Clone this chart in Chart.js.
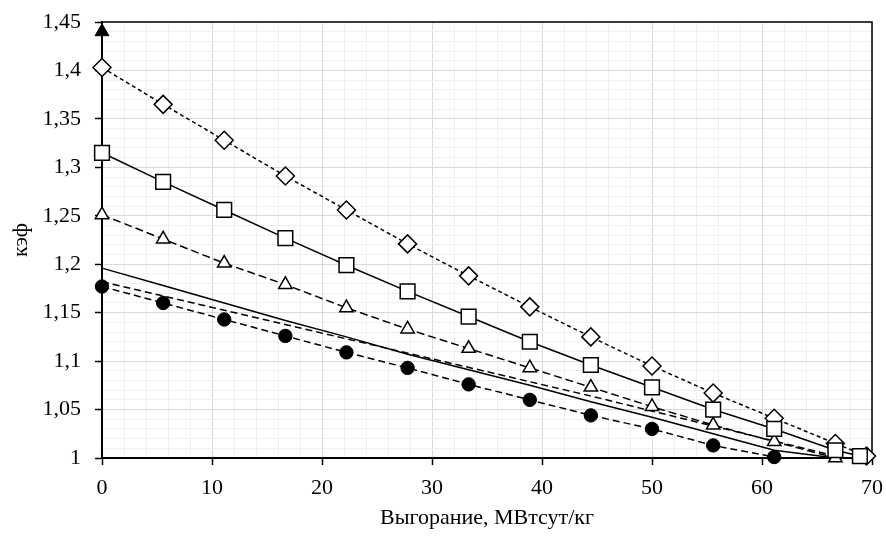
<!DOCTYPE html>
<html>
<head>
<meta charset="utf-8">
<script src="https://cdn.jsdelivr.net/npm/chart.js@4"></script>
<style>
  html, body { margin: 0; padding: 0; background: #fff; }
  #wrap { width: 886px; height: 540px; }
</style>
</head>
<body>
<div id="wrap"><canvas id="chart"></canvas></div>
<script>
// burnup points, MW*day/kg
const burnup = [0, 5.56, 11.11, 16.67, 22.22, 27.78, 33.33, 38.89, 44.44, 50, 55.56, 61.11, 66.67];

const diamondX = burnup.concat([69.5]);
const diamondY = [1.403, 1.365, 1.328, 1.291, 1.256, 1.221, 1.188, 1.156, 1.125, 1.095, 1.067, 1.041, 1.015, 1.002];

const squareX = burnup.concat([68.9]);
const squareY = [1.315, 1.285, 1.256, 1.227, 1.199, 1.172, 1.146, 1.120, 1.096, 1.073, 1.050, 1.030, 1.008, 1.002];

const triangleY = [1.251, 1.226, 1.201, 1.179, 1.155, 1.133, 1.113, 1.093, 1.073, 1.053, 1.034, 1.017, 1.000];

const circleX = burnup.slice(0, 12);
const circleY = [1.177, 1.160, 1.143, 1.126, 1.109, 1.093, 1.076, 1.060, 1.044, 1.030, 1.013, 1.001];

const solidY = [1.196, 1.178, 1.160, 1.142, 1.125, 1.107, 1.091, 1.075, 1.058, 1.042, 1.025, 1.008, 1.000];

const dashX = [0, 22.22, 44.44, 66.67];
const dashY = [1.182, 1.123, 1.064, 1.002];

const topX = [0];
const topY = [1.44];

const xTicks = [0, 10, 20, 30, 40, 50, 60, 70];
const yTicks = [1, 1.05, 1.1, 1.15, 1.2, 1.25, 1.3, 1.35, 1.4, 1.45];

function pts(xs, ys) {
  return xs.map((x, i) => ({ x: x, y: ys[i] }));
}

const FONT = { family: '"Liberation Serif", "Times New Roman", serif', size: 22 };

const isMajorX = v => xTicks.some(t => Math.abs(t - v) < 1e-6);
const isMajorY = v => yTicks.some(t => Math.abs(t - v) < 1e-6);

const frame = {
  id: 'frame',
  beforeDatasetsDraw(chart) {
    const a = chart.chartArea, ctx = chart.ctx;
    ctx.save();
    ctx.strokeStyle = '#000';
    ctx.lineWidth = 1.5;
    ctx.beginPath();
    ctx.moveTo(a.left, a.top);
    ctx.lineTo(a.right, a.top);
    ctx.lineTo(a.right, a.bottom);
    ctx.stroke();
    ctx.restore();
  }
};

const config = {
  type: 'line',
  data: {
    datasets: [
      {
        data: pts(squareX, squareY),
        borderColor: '#000', borderWidth: 1.5,
        pointStyle: 'rect', pointRadius: 10.4,
        pointBackgroundColor: '#fff', pointBorderColor: '#000', pointBorderWidth: 1.5,
      },
      {
        data: pts(diamondX, diamondY),
        borderColor: '#000', borderWidth: 1.5, borderDash: [4, 3],
        pointStyle: 'rectRot', pointRadius: 9,
        pointBackgroundColor: '#fff', pointBorderColor: '#000', pointBorderWidth: 1.5,
      },
      {
        data: pts(burnup, triangleY),
        borderColor: '#000', borderWidth: 1.5, borderDash: [8, 4],
        pointStyle: 'triangle', pointRadius: 7.7,
        pointBackgroundColor: '#fff', pointBorderColor: '#000', pointBorderWidth: 1.5,
      },
      {
        data: pts(circleX, circleY),
        borderColor: '#000', borderWidth: 1.5, borderDash: [7, 4],
        pointStyle: 'circle', pointRadius: 6.7,
        pointBackgroundColor: '#000', pointBorderColor: '#000', pointBorderWidth: 1,
      },
      {
        data: pts(burnup, solidY),
        borderColor: '#000', borderWidth: 1.5,
        pointRadius: 0,
      },
      {
        data: pts(dashX, dashY),
        borderColor: '#000', borderWidth: 1.5, borderDash: [7, 4],
        pointRadius: 0,
      },
      {
        data: pts(topX, topY),
        showLine: false,
        pointStyle: 'triangle', pointRadius: 8,
        pointBackgroundColor: '#000', pointBorderColor: '#000', pointBorderWidth: 1,
      },
    ]
  },
  options: {
    responsive: true,
    maintainAspectRatio: false,
    animation: false,
    layout: { padding: { left: 0, right: 14, top: 22, bottom: 0 } },
    datasets: { line: { clip: false } },
    plugins: {
      legend: { display: false },
      tooltip: { enabled: false },
    },
    elements: { line: { tension: 0 } },
    scales: {
      x: {
        type: 'linear',
        min: 0, max: 70,
        afterFit: s => { s.height = 82; s.paddingLeft = 0; s.paddingRight = 0; },
        grid: {
          color: c => isMajorX(c.tick.value) ? '#d9d9d9' : '#f0f0f0',
          lineWidth: 1,
          tickLength: 7,
          tickColor: c => isMajorX(c.tick.value) ? '#000' : 'rgba(0,0,0,0)',
          tickWidth: 1.5,
        },
        border: { display: true, color: '#000', width: 2 },
        ticks: {
          stepSize: 2,
          autoSkip: false,
          maxRotation: 0,
          padding: 10,
          color: '#000',
          font: FONT,
          callback: v => isMajorX(v) ? String(Math.round(v)) : '',
        },
        title: {
          display: true,
          text: 'Выгорание, МВтсут/кг',
          color: '#000',
          font: FONT,
          padding: { top: 0, bottom: 9 },
        },
      },
      y: {
        type: 'linear',
        min: 1, max: 1.45,
        afterFit: s => { s.width = 102; s.paddingTop = 0; s.paddingBottom = 0; },
        grid: {
          color: c => isMajorY(c.tick.value) ? '#d9d9d9' : '#f0f0f0',
          lineWidth: 1,
          tickLength: 7,
          tickColor: c => isMajorY(c.tick.value) ? '#000' : 'rgba(0,0,0,0)',
          tickWidth: 1.5,
        },
        border: { display: true, color: '#000', width: 2 },
        ticks: {
          stepSize: 0.01,
          autoSkip: false,
          padding: 14,
          color: '#000',
          font: FONT,
          callback: v => isMajorY(v) ? String(Math.round(v * 100) / 100).replace('.', ',') : '',
        },
        title: {
          display: true,
          text: 'кэф',
          color: '#000',
          font: FONT,
          padding: { top: 8, bottom: 0 },
        },
      },
    },
  },
  plugins: [frame],
};

new Chart(document.getElementById('chart'), config);
</script>
</body>
</html>
